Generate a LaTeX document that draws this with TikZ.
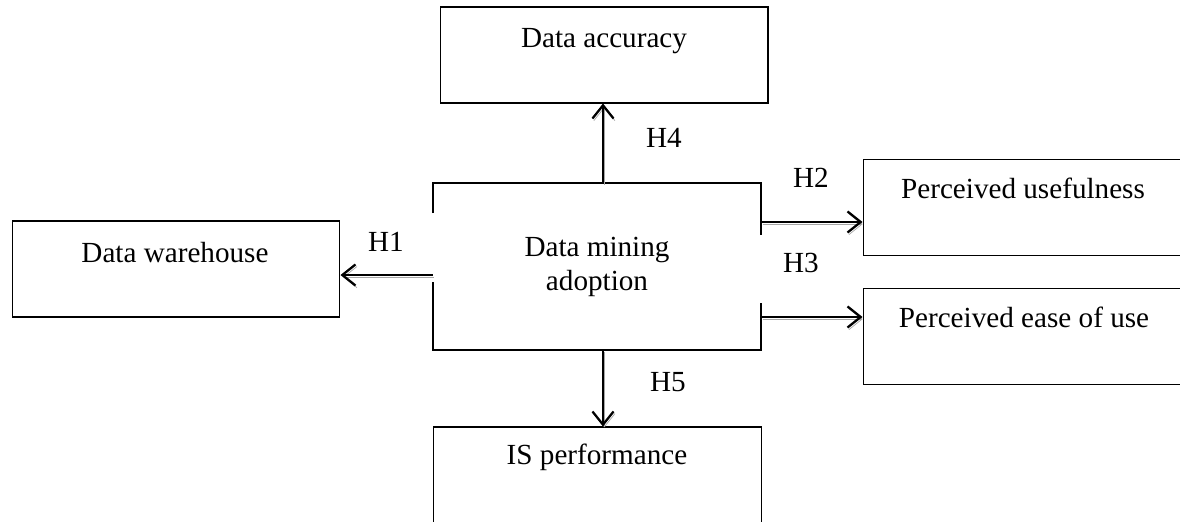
\documentclass[tikz,border=0pt]{standalone}
\usepackage{fontspec}
\setmainfont{Liberation Serif}
\usetikzlibrary{arrows.meta,calc}

\begin{document}
\begin{tikzpicture}[x=0.02cm, y=-0.02cm,
    box/.style={draw, line width=0.6pt, minimum width=6.56cm, minimum height=1.92cm, inner sep=0pt},
    boxtext/.style={anchor=base, inner sep=0pt, font=\fontsize{16.6}{19.3}\selectfont},
    hlabel/.style={inner sep=0pt, font=\fontsize{16.6}{19.3}\selectfont},
    hyp/.style={line width=1.3pt, -{Straight Barb[length=7.5pt, width=12pt, line width=1.3pt]},
        preaction={draw=black!35, transform canvas={xshift=0.8pt, yshift=-1.2pt}}},
    edge/.style={line width=0.6pt}]

    % Page (pixels of the reference)
    \clip (0,0) rectangle (1180,521);

    % Boxes
    \node[box] (acc) at (604,55) {};
    \node[box] (dw) at (176,269) {};
    \node[box] (pu) at (1027,207.5) {};
    \node[box] (peou) at (1027,336.5) {};
    \node[box] (isp) at (597.5,475) {};

    % Centre box (border drawn by hand, it has gaps)
    \node[boxtext, anchor=center, align=center, minimum width=6.56cm, minimum height=3.34cm]
        (dma) at (597,266.5) {Data mining\\adoption};
    \draw[edge] (433,213) |- (761,183) -- (761,235);
    \draw[edge] (761,303) |- (433,350) -- (433,282);

    % Box texts
    \node[boxtext] (acc-t) at (604,47) {Data accuracy};
    \node[boxtext] (dw-t) at (175,262) {Data warehouse};
    \node[boxtext] (pu-t) at (1023,198) {Perceived usefulness};
    \node[boxtext] (peou-t) at (1024,327) {Perceived ease of use};
    \node[boxtext] (isp-t) at (597,464) {IS performance};

    % Hypotheses
    \draw[hyp] (dma.north -| 603,0) -- (acc.south -| 603,0);
    \draw[hyp] (dma.south -| 603,0) -- (isp.north -| 603,0);
    \draw[hyp] (dma.west |- 0,275) -- (dw.east |- 0,275);
    \draw[hyp] (dma.east |- 0,222) -- (pu.west |- 0,222);
    \draw[hyp] (dma.east |- 0,317) -- (peou.west |- 0,317);

    \node[hlabel] (h1) at (386,242) {H1};
    \node[hlabel] (h2) at (811,178) {H2};
    \node[hlabel] (h3) at (801,263) {H3};
    \node[hlabel] (h4) at (664,138) {H4};
    \node[hlabel] (h5) at (668,382) {H5};

\end{tikzpicture}
\end{document}
